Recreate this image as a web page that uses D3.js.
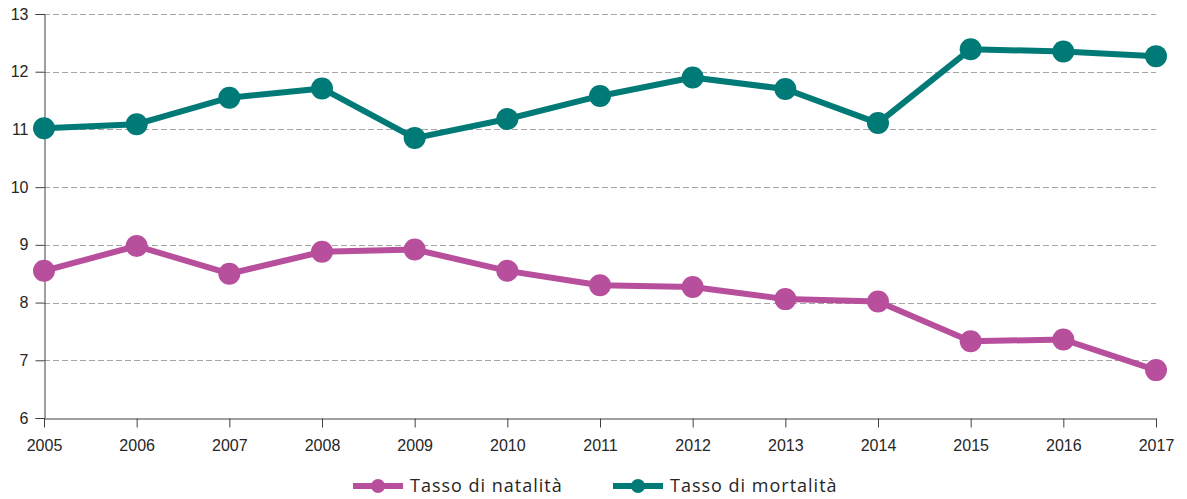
<!DOCTYPE html>
<html>
<head>
<meta charset="utf-8">
<script src="https://cdn.jsdelivr.net/npm/d3@7"></script>
<style>
  body { margin: 0; background: #fff; }
</style>
</head>
<body>
<div id="chart"></div>
<script>
const years = [2005, 2006, 2007, 2008, 2009, 2010, 2011, 2012, 2013, 2014, 2015, 2016, 2017];
const natalita = [8.55, 8.98, 8.50, 8.88, 8.92, 8.55, 8.30, 8.27, 8.06, 8.02, 7.33, 7.36, 6.83];
const mortalita = [11.02, 11.09, 11.55, 11.71, 10.85, 11.18, 11.58, 11.90, 11.70, 11.11, 12.39, 12.35, 12.27];
const yTicks = [6, 7, 8, 9, 10, 11, 12, 13];
const seriesNames = ["Tasso di natalità", "Tasso di mortalità"];

const width = 1187, height = 499;
const margin = {top: 14, right: 31, bottom: 80, left: 44};

const colNat = "#b74f9d";
const colMort = "#007a76";

const svg = d3.select("#chart").append("svg")
    .attr("width", width)
    .attr("height", height);

let x = d3.scaleLinear()
    .domain([2005, 2017])
    .range([margin.left, width - margin.right]);

let y = d3.scaleLinear()
    .domain([6, 13])
    .range([height - margin.bottom - 1, margin.top]);

// grid
svg.append("g")
    .selectAll("line")
    .data(yTicks.filter(d => d > 6))
    .enter()
    .append("line")
    .attr("x1", margin.left)
    .attr("x2", width - margin.right)
    .attr("y1", d => Math.round(y(d)) + 0.5)
    .attr("y2", d => Math.round(y(d)) + 0.5)
    .style("stroke", "#a6a6a6")
    .style("stroke-width", 1)
    .style("stroke-dasharray", "6,3");

// y axis
let yAxis = svg.append("g")
    .attr("transform", "translate(" + (margin.left + 0.5) + ",0)")
    .call(d3.axisLeft(y).tickValues(yTicks).tickSize(9).tickPadding(7).tickFormat(d3.format("d")));
yAxis.select(".domain").attr("stroke", "#404040");
yAxis.selectAll(".tick line").attr("stroke", "#404040");
yAxis.selectAll("text")
    .style("font-family", "Liberation Sans, Arial, sans-serif")
    .style("font-size", "16px")
    .attr("fill", "#262626");

// x axis
let xAxis = svg.append("g")
    .attr("transform", "translate(0," + (Math.round(y(6)) + 0.5) + ")")
    .call(d3.axisBottom(x).tickValues(years).tickSize(9).tickSizeOuter(0).tickPadding(12).tickFormat(d3.format("d")));
xAxis.select(".domain").attr("stroke", "#404040");
xAxis.selectAll(".tick line").attr("stroke", "#404040");
xAxis.selectAll("text")
    .style("font-family", "Liberation Sans, Arial, sans-serif")
    .style("font-size", "16px")
    .attr("fill", "#262626");

// lines
let line = d3.line()
    .x((d, i) => x(years[i]))
    .y(d => y(d));

function drawSeries(data, color) {
    svg.append("path")
        .datum(data)
        .attr("d", line)
        .attr("fill", "none")
        .attr("stroke", color)
        .attr("stroke-width", 6)
        .attr("stroke-linejoin", "round");
    svg.append("g")
        .selectAll("circle")
        .data(data)
        .enter()
        .append("circle")
        .attr("cx", (d, i) => x(years[i]))
        .attr("cy", d => y(d))
        .attr("r", 11)
        .attr("fill", color);
}
drawSeries(mortalita, colMort);
drawSeries(natalita, colNat);

// legend
let legend = svg.append("g");
let legendItems = [
    {name: seriesNames[0], color: colNat, x: 353},
    {name: seriesNames[1], color: colMort, x: 613}
];
let legendY = 486;
legendItems.forEach(it => {
    legend.append("line")
        .attr("x1", it.x)
        .attr("x2", it.x + 50)
        .attr("y1", legendY)
        .attr("y2", legendY)
        .attr("stroke", it.color)
        .attr("stroke-width", 6);
    legend.append("circle")
        .attr("cx", it.x + 25)
        .attr("cy", legendY)
        .attr("r", 7)
        .attr("fill", it.color);
    legend.append("text")
        .attr("x", it.x + 57)
        .attr("y", legendY + 6)
        .text(it.name)
        .attr("font-family", "Open Sans, sans-serif")
        .attr("font-size", "18px")
        .attr("letter-spacing", "1px")
        .attr("fill", "#262626");
});
</script>
</body>
</html>
